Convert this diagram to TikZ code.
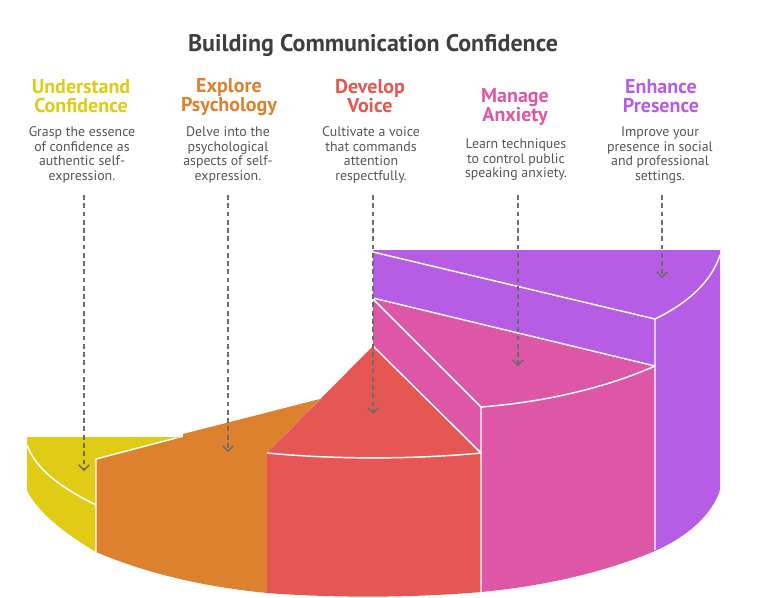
\documentclass[tikz,border=0pt]{standalone}
\usepackage{fontspec}
\setmainfont{PT Sans}
\usetikzlibrary{arrows.meta}
\definecolor{cyellow}{HTML}{E0CB15}
\definecolor{corange}{HTML}{DD812F}
\definecolor{cred}{HTML}{E55753}
\definecolor{cpink}{HTML}{DE57A6}
\definecolor{cpurple}{HTML}{B75CE5}
\definecolor{ctitle}{HTML}{3F3F3F}
\definecolor{cbody}{HTML}{555555}
\definecolor{cdash}{HTML}{6B6B6B}
\tikzset{
  x=0.75pt,y=-0.75pt,
  slice/.style={draw=none},
  seam/.style={draw=white,line width=1.1pt},
  titletext/.style={font=\fontsize{18}{20}\selectfont\bfseries,text=ctitle,inner sep=0pt},
  headtext/.style={font=\fontsize{15}{14.7}\selectfont\bfseries,align=center,inner sep=0pt},
  bodytext/.style={font=\fontsize{10.4}{10.9}\selectfont,text=cbody,align=center,inner sep=0pt},
  pointer/.style={draw=cdash,line width=1pt,dash pattern=on 3.6pt off 2.6pt,-{Straight Barb[length=4pt,width=8pt]}}
}
\begin{document}
\begin{tikzpicture}
\useasboundingbox (0,0) rectangle (768,597);
% slices
\path[slice,fill=cyellow] (27,437) -- (180,437) -- (96,459) -- (96,552) .. controls (62,532) and (36,510) .. (27,490) -- cycle;
\path[slice,fill=corange] (96,459) -- (183,437) -- (183,434) -- (320,399) -- (267,453) -- (267.5,593) .. controls (205,587) and (148,574) .. (96,552) -- cycle;
\path[slice,fill=cred] (373,346) -- (481,453) -- (481,592) .. controls (410,598) and (335,598) .. (267,593) -- (267,453) -- cycle;
\path[slice,fill=cpink] (373,298) -- (655,366) -- (655,551) .. controls (605,572) and (545,586) .. (481,592) -- (481,453) -- (373,346) -- cycle;
\path[slice,fill=cpurple] (373,250) -- (720,250) -- (720,490) .. controls (712,514) and (690,535) .. (655,551) -- (655,366) -- (373,298) -- cycle;
% seams
\draw[seam] (27,445) .. controls (36,470) and (62,488) .. (96,505);
\draw[seam] (176,438) -- (96,459) -- (96,552);
\draw[seam] (267,453) .. controls (335,459.5) and (412,459.5) .. (481,453);
\draw[seam] (373,346) -- (481,453);
\draw[seam] (481,592) -- (481,407) -- (373,299);
\draw[seam] (481,407) .. controls (545,402) and (605,388) .. (655,366);
\draw[seam] (373,298) -- (655,366);
\draw[seam] (373,252) -- (655,319) -- (655,550);
\draw[seam] (655,319) .. controls (690,302) and (712,280) .. (720,255);
% texts
\node[titletext] (title) at (373,45) {Building Communication Confidence};
\node[headtext,text=cyellow] (h1) at (81,96) {Understand\\Confidence};
\node[headtext,text=corange] (h2) at (229,97) {Explore\\Psychology};
\node[headtext,text=cred] (h3) at (370,96) {Develop\\Voice};
\node[headtext,text=cpink] (h4) at (515,107) {Manage\\Anxiety};
\node[headtext,text=cpurple] (h5) at (661,96) {Enhance\\Presence};
\node[bodytext] (b1) at (82,155) {Grasp the essence\\of confidence as\\authentic self-\\expression.};
\node[bodytext] (b2) at (228,155) {Delve into the\\psychological\\aspects of self-\\expression.};
\node[bodytext] (b3) at (371,155) {Cultivate a voice\\that commands\\attention\\respectfully.};
\node[bodytext] (b4) at (516,160) {Learn techniques\\to control public\\speaking anxiety.};
\node[bodytext] (b5) at (660,155) {Improve your\\presence in social\\and professional\\settings.};
% pointers
\coordinate (s1) at (84,195); \coordinate (e1) at (84,471);
\coordinate (s2) at (228,195); \coordinate (e2) at (228,452);
\coordinate (s3) at (373,195); \coordinate (e3) at (373,414);
\coordinate (s4) at (518,195); \coordinate (e4) at (518,366);
\coordinate (s5) at (662,195); \coordinate (e5) at (662,278);
\draw[pointer] (s1) -- (e1);
\draw[pointer] (s2) -- (e2);
\draw[pointer] (s3) -- (e3);
\draw[pointer] (s4) -- (e4);
\draw[pointer] (s5) -- (e5);
\end{tikzpicture}
\end{document}
